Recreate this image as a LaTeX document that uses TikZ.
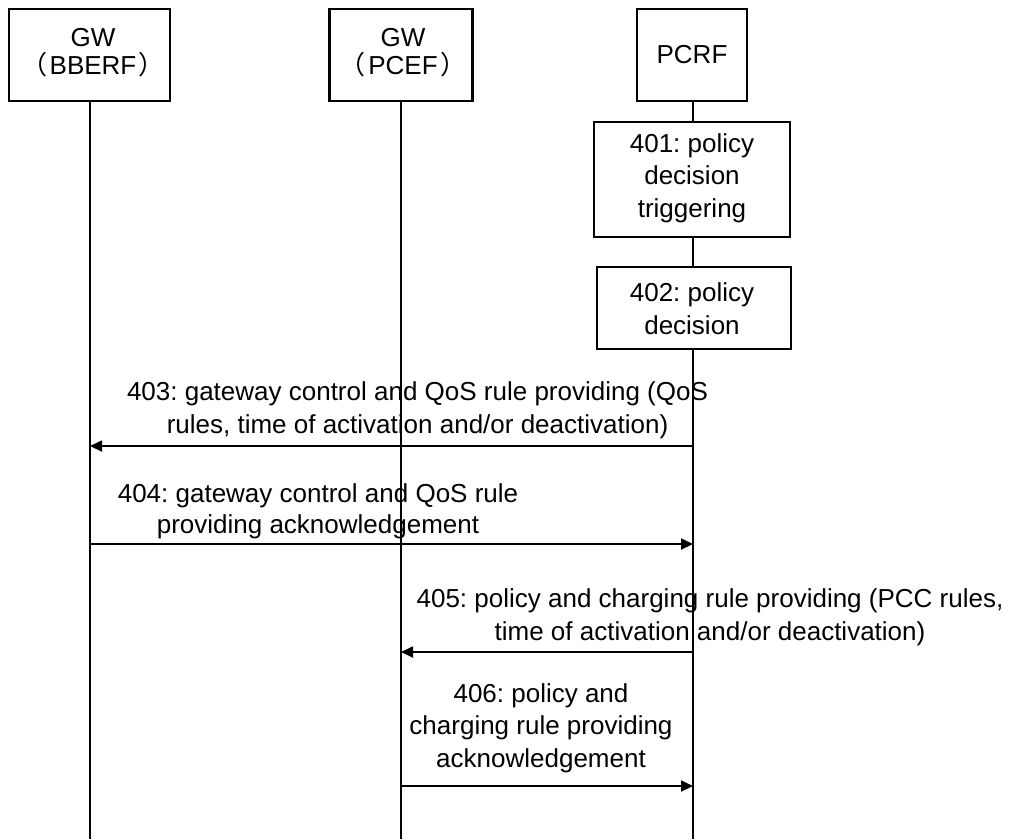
\documentclass[tikz,border=0pt]{standalone}
\usepackage{fontspec}
\setmainfont{Liberation Sans}
\newfontfamily\cjk{Noto Sans CJK SC}
\usetikzlibrary{arrows.meta}
\frenchspacing
\begin{document}
\begin{tikzpicture}[x=1pt,y=-1pt,
  every node/.style={font=\fontsize{26}{32.5}\selectfont, inner sep=0pt},
  hdrbox/.style={draw, line width=2.4pt, fill=white, minimum width=#1, minimum height=92pt},
  actbox/.style={draw, line width=2.2pt, fill=white},
  txt/.style={align=center, anchor=base},
  life/.style={line width=1.8pt},
  msg/.style={line width=1.8pt, -{Triangle[length=12pt,width=11pt]}}]
\useasboundingbox (0,0) rectangle (1016,839);
% lifeline ends
\coordinate (bbeend) at (90,839);
\coordinate (pceend) at (401,839);
\coordinate (pcrfend) at (693,839);
% header boxes
\node[hdrbox=161pt] (bbe) at (89.5,55) {};
\node[txt] (bbet) at (93,74) {\frenchspacing GW\\[-4.5pt]{\cjk （}\hspace{2.5pt}BBERF\hspace{2.5pt}{\cjk ）}};
\node[hdrbox=143pt] (pce) at (401,55) {};
\node[txt] (pcet) at (403,74) {\frenchspacing GW\\[-4.5pt]{\cjk （}\hspace{2.5pt}PCEF\hspace{2.5pt}{\cjk ）}};
\node[hdrbox=110pt] (pcrf) at (692,55) {};
\node[txt] (pcrft) at (692,63) {PCRF};
% activity boxes on PCRF
\node[actbox, minimum width=196pt, minimum height=115pt] (s401) at (692,179.5) {};
\node[txt] (s401t) at (692,217) {\frenchspacing 401: policy\\decision\\triggering};
\node[actbox, minimum width=194pt, minimum height=82pt] (s402) at (694,308) {};
\node[txt] (s402t) at (692,334) {\frenchspacing 402: policy\\decision};
% lifelines
\draw[life] (bbe.south -| bbeend) -- (bbeend);
\draw[life] (pce.south) -- (pceend);
\draw[life] (pcrf.south -| pcrfend) -- (s401.north -| pcrfend);
\draw[life] (s401.south -| pcrfend) -- (s402.north -| pcrfend);
\draw[life] (s402.south -| pcrfend) -- (pcrfend);
% message end points
\coordinate (m403a) at (693,446); \coordinate (m403b) at (90,446);
\coordinate (m404a) at (90,544);  \coordinate (m404b) at (693,544);
\coordinate (m405a) at (693,652); \coordinate (m405b) at (401,652);
\coordinate (m406a) at (401,786); \coordinate (m406b) at (693,786);
\draw[msg] (m403a) -- (m403b);
\draw[msg] (m404a) -- (m404b);
\draw[msg] (m405a) -- (m405b);
\draw[msg] (m406a) -- (m406b);
% message labels
\node[txt] (l403) at (417.5,433) {\frenchspacing 403: gateway control and QoS rule providing (QoS\\rules, time of activation and/or deactivation)};
\node[txt] (l404) at (318,533) {\frenchspacing 404: gateway control and QoS rule\\[-2pt]providing acknowledgement};
\node[txt] (l405) at (710,640) {\frenchspacing 405: policy and charging rule providing (PCC rules,\\time of activation and/or deactivation)};
\node[txt] (l406) at (541,767) {\frenchspacing 406: policy and\\charging rule providing\\acknowledgement};
\end{tikzpicture}
\end{document}
